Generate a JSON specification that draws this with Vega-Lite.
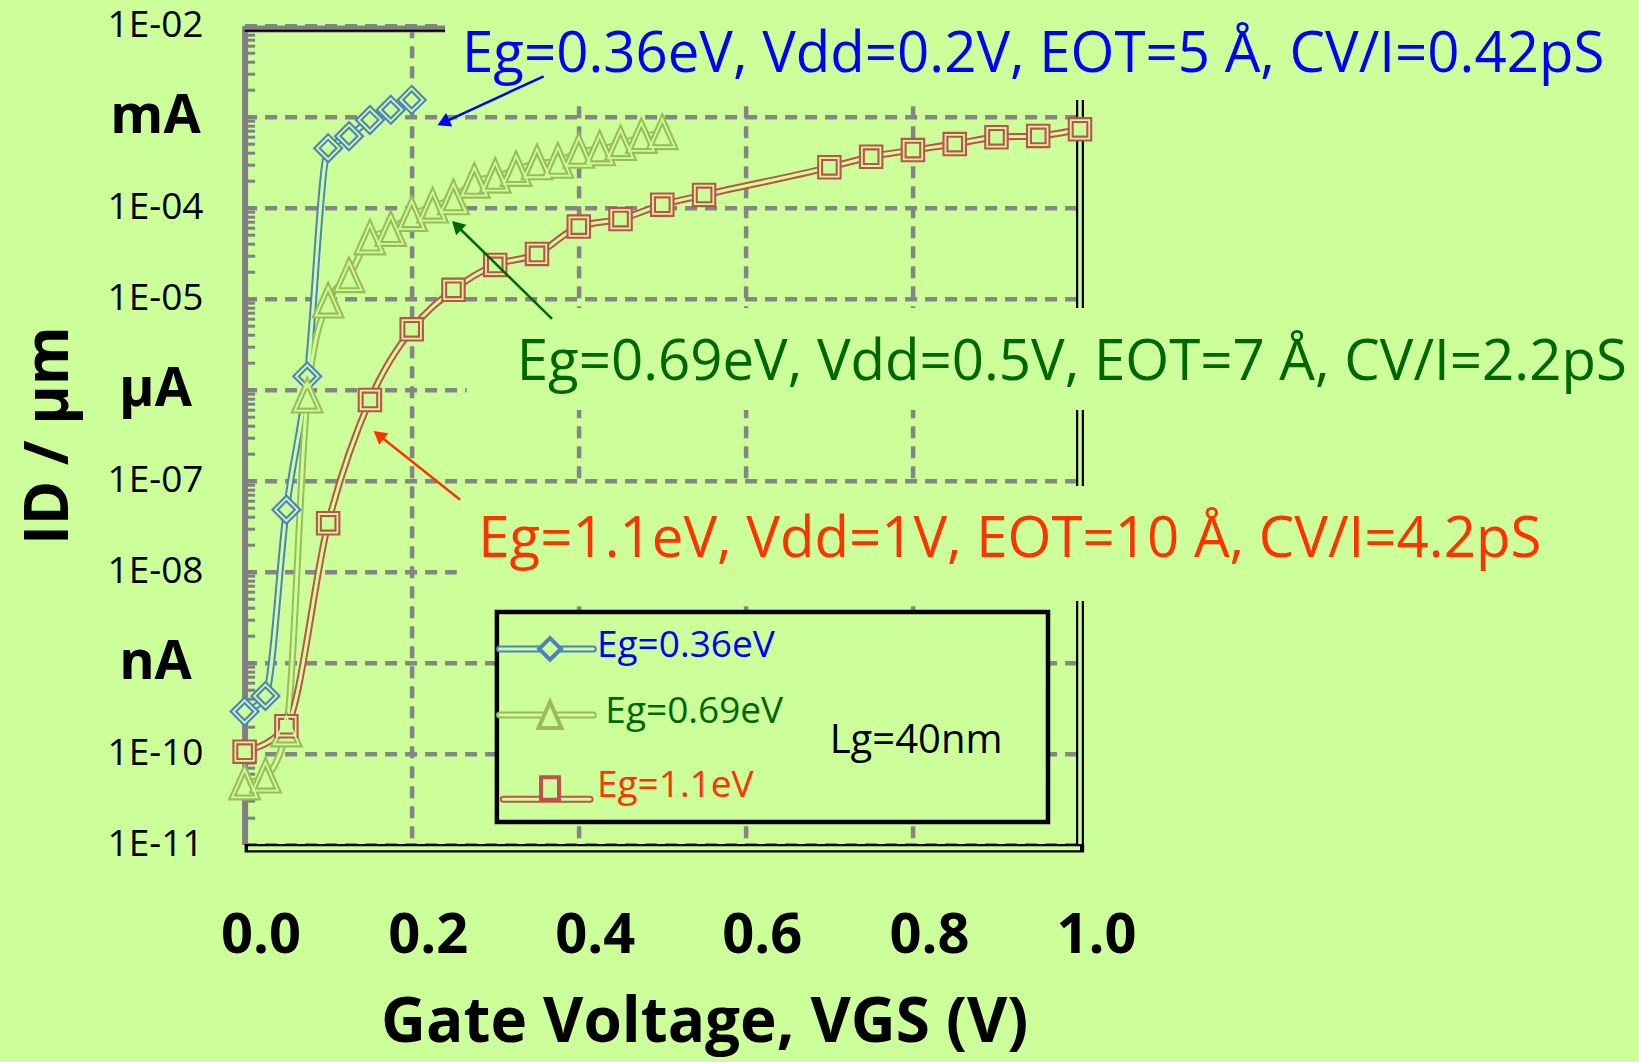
{
  "$schema": "https://vega.github.io/schema/vega-lite/v6.json",
  "width": 835.4,
  "height": 818.9,
  "autosize": {"type": "none"},
  "padding": {"left": 244.6, "top": 25.7, "right": 559, "bottom": 217.4},
  "background": "#CCFF99",
  "config": {
    "view": {"stroke": null},
    "font": "Open Sans",
    "axis": {"gridColor": "#858585", "gridDash": [12, 8], "gridWidth": 4.5, "labelColor": "#000000", "titleColor": "#000000", "labelFont": "Open Sans", "titleFont": "Open Sans"}
  },
  "datasets": {
    "series": [
      {"series": "Eg=0.36eV", "V": 0, "I": 2.9e-10},
      {"series": "Eg=0.36eV", "V": 0.025, "I": 4.3e-10},
      {"series": "Eg=0.36eV", "V": 0.05, "I": 4.8e-8},
      {"series": "Eg=0.36eV", "V": 0.075, "I": 1.4e-6},
      {"series": "Eg=0.36eV", "V": 0.1, "I": 4.5e-4},
      {"series": "Eg=0.36eV", "V": 0.125, "I": 6.1e-4},
      {"series": "Eg=0.36eV", "V": 0.15, "I": 9.2e-4},
      {"series": "Eg=0.36eV", "V": 0.175, "I": 1.19e-3},
      {"series": "Eg=0.36eV", "V": 0.2, "I": 1.53e-3},
      {"series": "Eg=0.69eV", "V": 0, "I": 4.7e-11},
      {"series": "Eg=0.69eV", "V": 0.025, "I": 5.6e-11},
      {"series": "Eg=0.69eV", "V": 0.05, "I": 1.8e-10},
      {"series": "Eg=0.69eV", "V": 0.075, "I": 8.4e-7},
      {"series": "Eg=0.69eV", "V": 0.1, "I": 9.3e-6},
      {"series": "Eg=0.69eV", "V": 0.125, "I": 1.77e-5},
      {"series": "Eg=0.69eV", "V": 0.15, "I": 4.6e-5},
      {"series": "Eg=0.69eV", "V": 0.175, "I": 5.7e-5},
      {"series": "Eg=0.69eV", "V": 0.2, "I": 8.3e-5},
      {"series": "Eg=0.69eV", "V": 0.225, "I": 1.03e-4},
      {"series": "Eg=0.69eV", "V": 0.25, "I": 1.27e-4},
      {"series": "Eg=0.69eV", "V": 0.275, "I": 1.93e-4},
      {"series": "Eg=0.69eV", "V": 0.3, "I": 2.19e-4},
      {"series": "Eg=0.69eV", "V": 0.325, "I": 2.6e-4},
      {"series": "Eg=0.69eV", "V": 0.35, "I": 3.08e-4},
      {"series": "Eg=0.69eV", "V": 0.375, "I": 3.2e-4},
      {"series": "Eg=0.69eV", "V": 0.4, "I": 4.12e-4},
      {"series": "Eg=0.69eV", "V": 0.425, "I": 4.38e-4},
      {"series": "Eg=0.69eV", "V": 0.45, "I": 5.0e-4},
      {"series": "Eg=0.69eV", "V": 0.475, "I": 6.0e-4},
      {"series": "Eg=0.69eV", "V": 0.5, "I": 6.6e-4},
      {"series": "Eg=1.1eV", "V": 0, "I": 1.05e-10},
      {"series": "Eg=1.1eV", "V": 0.05, "I": 2.0e-10},
      {"series": "Eg=1.1eV", "V": 0.1, "I": 3.4e-8},
      {"series": "Eg=1.1eV", "V": 0.15, "I": 7.7e-7},
      {"series": "Eg=1.1eV", "V": 0.2, "I": 4.6e-6},
      {"series": "Eg=1.1eV", "V": 0.25, "I": 1.25e-5},
      {"series": "Eg=1.1eV", "V": 0.3, "I": 2.35e-5},
      {"series": "Eg=1.1eV", "V": 0.35, "I": 3.1e-5},
      {"series": "Eg=1.1eV", "V": 0.4, "I": 6.2e-5},
      {"series": "Eg=1.1eV", "V": 0.45, "I": 7.5e-5},
      {"series": "Eg=1.1eV", "V": 0.5, "I": 1.08e-4},
      {"series": "Eg=1.1eV", "V": 0.55, "I": 1.38e-4},
      {"series": "Eg=1.1eV", "V": 0.7, "I": 2.78e-4},
      {"series": "Eg=1.1eV", "V": 0.75, "I": 3.63e-4},
      {"series": "Eg=1.1eV", "V": 0.8, "I": 4.3e-4},
      {"series": "Eg=1.1eV", "V": 0.85, "I": 5.0e-4},
      {"series": "Eg=1.1eV", "V": 0.9, "I": 5.94e-4},
      {"series": "Eg=1.1eV", "V": 0.95, "I": 6.14e-4},
      {"series": "Eg=1.1eV", "V": 1.0, "I": 7.27e-4}
    ]
  },
  "resolve": {"axis": {"x": "independent", "y": "independent"}},
  "layer": [
    {
      "data": {"values": [{}]},
      "mark": {"type": "rule", "color": "#000000", "strokeWidth": 8},
      "encoding": {
        "x": {"datum": 1, "type": "quantitative", "scale": {"domain": [0, 1], "nice": false, "zero": false}, "axis": null},
        "y": {"datum": 9.1e-12, "type": "quantitative", "scale": {"type": "log", "domain": [1e-11, 0.01], "nice": false}, "axis": null},
        "y2": {"datum": 1.53e-3}
      }
    },
    {
      "data": {"values": [{}]},
      "mark": {"type": "rule", "color": "#CCFF99", "strokeWidth": 3.5},
      "encoding": {
        "x": {"datum": 1, "type": "quantitative", "scale": {"domain": [0, 1], "nice": false, "zero": false}, "axis": null},
        "y": {"datum": 9.1e-12, "type": "quantitative", "scale": {"type": "log", "domain": [1e-11, 0.01], "nice": false}, "axis": null},
        "y2": {"datum": 1.53e-3}
      }
    },
    {
      "data": {"values": [{}]},
      "mark": {"type": "rule", "color": "#000000", "strokeWidth": 8.5},
      "encoding": {
        "x": {"datum": 0, "type": "quantitative", "scale": {"domain": [0, 1], "nice": false, "zero": false}, "axis": null},
        "x2": {"datum": 1.005},
        "y": {"datum": 9.1e-12, "type": "quantitative", "scale": {"type": "log", "domain": [1e-11, 0.01], "nice": false}, "axis": null}
      }
    },
    {
      "data": {"values": [{}]},
      "mark": {"type": "rule", "color": "#CCFF99", "strokeWidth": 4},
      "encoding": {
        "x": {"datum": 0.004, "type": "quantitative", "scale": {"domain": [0, 1], "nice": false, "zero": false}, "axis": null},
        "x2": {"datum": 1.0},
        "y": {"datum": 9.1e-12, "type": "quantitative", "scale": {"type": "log", "domain": [1e-11, 0.01], "nice": false}, "axis": null}
      }
    },
    {
      "data": {"values": [{}]},
      "mark": {"type": "rule", "color": "#808080", "strokeWidth": 7},
      "encoding": {
        "x": {"datum": 0, "type": "quantitative", "scale": {"domain": [0, 1], "nice": false, "zero": false}, "axis": null},
        "x2": {"datum": 0.2455},
        "y": {"datum": 0.0092, "type": "quantitative", "scale": {"type": "log", "domain": [1e-11, 0.01], "nice": false}, "axis": null}
      }
    },
    {
      "data": {"values": [{}]},
      "mark": {"type": "rule", "color": "#000000", "strokeWidth": 2},
      "encoding": {
        "x": {"datum": 0, "type": "quantitative", "scale": {"domain": [0, 1], "nice": false, "zero": false}, "axis": null},
        "x2": {"datum": 0.2455},
        "y": {"datum": 0.0088, "type": "quantitative", "scale": {"type": "log", "domain": [1e-11, 0.01], "nice": false}, "axis": null}
      }
    },
    {
      "data": {"values": [{}]},
      "mark": {"type": "rect", "color": "#CCFF99"},
      "encoding": {
        "x": {"datum": 0.24, "type": "quantitative", "scale": {"domain": [0, 1], "nice": false, "zero": false}, "axis": null},
        "x2": {"datum": 1.2},
        "y": {"datum": 1.53e-3, "type": "quantitative", "scale": {"type": "log", "domain": [1e-11, 0.01], "nice": false}, "axis": null},
        "y2": {"datum": 0.05}
      }
    },
    {
      "data": {"values": [{}]},
      "mark": {"type": "rect", "color": "#CCFF99"},
      "encoding": {
        "x": {"datum": 0.266, "type": "quantitative", "scale": {"domain": [0, 1], "nice": false, "zero": false}, "axis": null},
        "x2": {"datum": 1.2},
        "y": {"datum": 5.98e-7, "type": "quantitative", "scale": {"type": "log", "domain": [1e-11, 0.01], "nice": false}, "axis": null},
        "y2": {"datum": 7.9e-6}
      }
    },
    {
      "data": {"values": [{}]},
      "mark": {"type": "rect", "color": "#CCFF99"},
      "encoding": {
        "x": {"datum": 0.254, "type": "quantitative", "scale": {"domain": [0, 1], "nice": false, "zero": false}, "axis": null},
        "x2": {"datum": 1.2},
        "y": {"datum": 4.77e-9, "type": "quantitative", "scale": {"type": "log", "domain": [1e-11, 0.01], "nice": false}, "axis": null},
        "y2": {"datum": 8.75e-8}
      }
    },
    {
      "data": {"values": [{}]},
      "mark": {"type": "rect", "fill": "#CCFF99", "stroke": "#000000", "strokeWidth": 4.5},
      "encoding": {
        "x": {"datum": 0.302, "type": "quantitative", "scale": {"domain": [0, 1], "nice": false, "zero": false}, "axis": null},
        "x2": {"datum": 0.9617},
        "y": {"datum": 1.77e-11, "type": "quantitative", "scale": {"type": "log", "domain": [1e-11, 0.01], "nice": false}, "axis": null},
        "y2": {"datum": 3.61e-9}
      }
    },
    {
      "data": {"name": "series"},
      "mark": {"type": "line", "interpolate": "monotone", "strokeWidth": 7, "strokeCap": "round"},
      "encoding": {
        "x": {
          "field": "V", "type": "quantitative",
          "scale": {"domain": [0, 1], "nice": false, "zero": false},
          "axis": {
            "orient": "bottom",
            "values": [0, 0.2, 0.4, 0.6, 0.8, 1],
            "format": ".1f",
            "labelFontSize": 56, "labelFontWeight": "bold", "labelOffset": 16, "labelPadding": 108, "labelBaseline": "alphabetic", "labelFlush": false, "labelOverlap": false,
            "ticks": false, "domain": false, "grid": true, "gridWidth": 4.5, "gridColor": "#858585", "gridDash": [12, 8],
            "title": "Gate Voltage, VGS (V)", "titleFontSize": 62, "titleFontWeight": "bold", "titleX": 459.6, "titleY": 197, "titleAlign": "center", "titleBaseline": "alphabetic"
          }
        },
        "y": {
          "field": "I", "type": "quantitative",
          "scale": {"type": "log", "domain": [1e-11, 0.01], "nice": false},
          "axis": {
            "orient": "left",
            "values": [1e-11, 1e-10, 1e-9, 1e-8, 1e-7, 1e-6, 1e-5, 1e-4, 1e-3, 1e-2],
            "labelExpr": "round(log(datum.value)/LN10) == -3 ? 'mA' : round(log(datum.value)/LN10) == -6 ? 'µA' : round(log(datum.value)/LN10) == -9 ? 'nA' : '1E-' + pad(toString(-round(log(datum.value)/LN10)), 2, '0', 'left')",
            "labelFontSize": {"condition": {"test": "round(log(datum.value)/LN10) % 3 == 0", "value": 54}, "value": 37},
            "labelFontWeight": {"condition": {"test": "round(log(datum.value)/LN10) % 3 == 0", "value": "bold"}, "value": "normal"},
            "labelAlign": "center", "labelBaseline": "middle", "labelPadding": 89.6, "labelOverlap": false, "labelFlush": false,
            "ticks": false, "domainColor": "#808080", "domainWidth": 6, "grid": true, "gridWidth": 4.5, "gridColor": "#858585", "gridDash": [12, 8],
            "title": "ID / µm", "titleFontSize": 60, "titleFontWeight": "bold", "titleX": -177.6, "titleY": 409.5, "titleAngle": 270, "titleAlign": "center", "titleBaseline": "alphabetic"
          }
        },
        "stroke": {
          "field": "series", "type": "nominal",
          "scale": {"domain": ["Eg=0.36eV", "Eg=0.69eV", "Eg=1.1eV"], "range": ["#4F81BD", "#9BBB59", "#C0504D"]},
          "legend": null
        }
      }
    },
    {
      "data": {"name": "series"},
      "mark": {"type": "line", "interpolate": "monotone", "strokeWidth": 3, "color": "#CCFF99", "strokeCap": "round"},
      "encoding": {
        "x": {"field": "V", "type": "quantitative", "scale": {"domain": [0, 1], "nice": false, "zero": false}, "axis": null},
        "y": {
          "field": "I", "type": "quantitative",
          "scale": {"type": "log", "domain": [1e-11, 0.01], "nice": false},
          "axis": {
            "orient": "left",
            "values": [1e-11, 2e-11, 3e-11, 4e-11, 5e-11, 6e-11, 7e-11, 8e-11, 9e-11, 1e-10, 2e-10, 3e-10, 4e-10, 5e-10, 6e-10, 7e-10, 8e-10, 9e-10, 1e-9, 2e-9, 3e-9, 4e-9, 5e-9, 6e-9, 7e-9, 8e-9, 9e-9, 1e-8, 2e-8, 3e-8, 4e-8, 5e-8, 6e-8, 7e-8, 8e-8, 9e-8, 1e-7, 2e-7, 3e-7, 4e-7, 5e-7, 6e-7, 7e-7, 8e-7, 9e-7, 1e-6, 2e-6, 3e-6, 4e-6, 5e-6, 6e-6, 7e-6, 8e-6, 9e-6, 1e-5, 2e-5, 3e-5, 4e-5, 5e-5, 6e-5, 7e-5, 8e-5, 9e-5, 1e-4, 2e-4, 3e-4, 4e-4, 5e-4, 6e-4, 7e-4, 8e-4, 9e-4, 1e-3, 2e-3, 3e-3, 4e-3, 5e-3, 6e-3, 7e-3, 8e-3, 9e-3, 1e-2],
            "labels": false, "grid": false, "domain": false, "ticks": true,
            "tickSize": -10, "tickColor": "#808080", "tickWidth": 3, "title": null
          }
        },
        "detail": {"field": "series", "type": "nominal"}
      }
    },
    {
      "data": {"name": "series"},
      "mark": {"type": "point", "filled": true, "fill": "#CCFF99", "strokeWidth": 6, "opacity": 1, "size": 700},
      "encoding": {
        "x": {"field": "V", "type": "quantitative", "scale": {"domain": [0, 1], "nice": false, "zero": false}, "axis": null},
        "y": {"field": "I", "type": "quantitative", "scale": {"type": "log", "domain": [1e-11, 0.01], "nice": false}, "axis": null},
        "stroke": {
          "field": "series", "type": "nominal",
          "scale": {"domain": ["Eg=0.36eV", "Eg=0.69eV", "Eg=1.1eV"], "range": ["#4F81BD", "#9BBB59", "#C0504D"]},
          "legend": null
        },
        "shape": {
          "field": "series", "type": "nominal",
          "scale": {"domain": ["Eg=0.36eV", "Eg=0.69eV", "Eg=1.1eV"], "range": ["M0,-0.85L0.85,0L0,0.85L-0.85,0Z", "M0,-1.06L0.94,1.06L-0.94,1.06Z", "M-0.7,-0.7H0.7V0.7H-0.7Z"]},
          "legend": null
        }
      }
    },
    {
      "data": {"name": "series"},
      "mark": {"type": "point", "filled": false, "stroke": "#CCFF99", "strokeWidth": 1.8, "opacity": 1, "size": 700},
      "encoding": {
        "x": {"field": "V", "type": "quantitative", "scale": {"domain": [0, 1], "nice": false, "zero": false}, "axis": null},
        "y": {"field": "I", "type": "quantitative", "scale": {"type": "log", "domain": [1e-11, 0.01], "nice": false}, "axis": null},
        "shape": {
          "field": "series", "type": "nominal",
          "scale": {"domain": ["Eg=0.36eV", "Eg=0.69eV", "Eg=1.1eV"], "range": ["M0,-0.85L0.85,0L0,0.85L-0.85,0Z", "M0,-1.06L0.94,1.06L-0.94,1.06Z", "M-0.7,-0.7H0.7V0.7H-0.7Z"]},
          "legend": null
        }
      }
    },
    {
      "data": {"values": [{}]},
      "mark": {"type": "rule", "color": "#4F81BD", "strokeWidth": 7, "strokeCap": "round"},
      "encoding": {
        "x": {"datum": 0.3052, "type": "quantitative", "scale": {"domain": [0, 1], "nice": false, "zero": false}, "axis": null},
        "x2": {"datum": 0.4174},
        "y": {"datum": 1.416e-9, "type": "quantitative", "scale": {"type": "log", "domain": [1e-11, 0.01], "nice": false}, "axis": null}
      }
    },
    {
      "data": {"values": [{}]},
      "mark": {"type": "rule", "color": "#CCFF99", "strokeWidth": 3, "strokeCap": "round"},
      "encoding": {
        "x": {"datum": 0.3052, "type": "quantitative", "scale": {"domain": [0, 1], "nice": false, "zero": false}, "axis": null},
        "x2": {"datum": 0.4174},
        "y": {"datum": 1.416e-9, "type": "quantitative", "scale": {"type": "log", "domain": [1e-11, 0.01], "nice": false}, "axis": null}
      }
    },
    {
      "data": {"values": [{}]},
      "mark": {"type": "point", "shape": "M0,-0.85L0.85,0L0,0.85L-0.85,0Z", "filled": true, "fill": "#CCFF99", "stroke": "#4F81BD", "strokeWidth": 4, "size": 650, "opacity": 1},
      "encoding": {
        "x": {"datum": 0.3656, "type": "quantitative", "scale": {"domain": [0, 1], "nice": false, "zero": false}, "axis": null},
        "y": {"datum": 1.416e-9, "type": "quantitative", "scale": {"type": "log", "domain": [1e-11, 0.01], "nice": false}, "axis": null}
      }
    },
    {
      "data": {"values": [{}]},
      "mark": {"type": "text", "text": "Eg=0.36eV", "font": "Open Sans", "fontSize": 37, "color": "#0000FF", "align": "left", "baseline": "alphabetic"},
      "encoding": {
        "x": {"datum": 0.4218, "type": "quantitative", "scale": {"domain": [0, 1], "nice": false, "zero": false}, "axis": null},
        "y": {"datum": 1.164e-9, "type": "quantitative", "scale": {"type": "log", "domain": [1e-11, 0.01], "nice": false}, "axis": null}
      }
    },
    {
      "data": {"values": [{}]},
      "mark": {"type": "rule", "color": "#9BBB59", "strokeWidth": 7, "strokeCap": "round"},
      "encoding": {
        "x": {"datum": 0.3052, "type": "quantitative", "scale": {"domain": [0, 1], "nice": false, "zero": false}, "axis": null},
        "x2": {"datum": 0.4174},
        "y": {"datum": 2.66e-10, "type": "quantitative", "scale": {"type": "log", "domain": [1e-11, 0.01], "nice": false}, "axis": null}
      }
    },
    {
      "data": {"values": [{}]},
      "mark": {"type": "rule", "color": "#CCFF99", "strokeWidth": 3, "strokeCap": "round"},
      "encoding": {
        "x": {"datum": 0.3052, "type": "quantitative", "scale": {"domain": [0, 1], "nice": false, "zero": false}, "axis": null},
        "x2": {"datum": 0.4174},
        "y": {"datum": 2.66e-10, "type": "quantitative", "scale": {"type": "log", "domain": [1e-11, 0.01], "nice": false}, "axis": null}
      }
    },
    {
      "data": {"values": [{}]},
      "mark": {"type": "point", "shape": "M0,-1.06L0.94,1.06L-0.94,1.06Z", "filled": true, "fill": "#CCFF99", "stroke": "#9BBB59", "strokeWidth": 4, "size": 600, "opacity": 1},
      "encoding": {
        "x": {"datum": 0.3656, "type": "quantitative", "scale": {"domain": [0, 1], "nice": false, "zero": false}, "axis": null},
        "y": {"datum": 2.66e-10, "type": "quantitative", "scale": {"type": "log", "domain": [1e-11, 0.01], "nice": false}, "axis": null}
      }
    },
    {
      "data": {"values": [{}]},
      "mark": {"type": "text", "text": "Eg=0.69eV", "font": "Open Sans", "fontSize": 37, "color": "#006600", "align": "left", "baseline": "alphabetic"},
      "encoding": {
        "x": {"datum": 0.4318, "type": "quantitative", "scale": {"domain": [0, 1], "nice": false, "zero": false}, "axis": null},
        "y": {"datum": 2.16e-10, "type": "quantitative", "scale": {"type": "log", "domain": [1e-11, 0.01], "nice": false}, "axis": null}
      }
    },
    {
      "data": {"values": [{}]},
      "mark": {"type": "rule", "color": "#C0504D", "strokeWidth": 7, "strokeCap": "round"},
      "encoding": {
        "x": {"datum": 0.3097, "type": "quantitative", "scale": {"domain": [0, 1], "nice": false, "zero": false}, "axis": null},
        "x2": {"datum": 0.4135},
        "y": {"datum": 3.15e-11, "type": "quantitative", "scale": {"type": "log", "domain": [1e-11, 0.01], "nice": false}, "axis": null}
      }
    },
    {
      "data": {"values": [{}]},
      "mark": {"type": "rule", "color": "#CCFF99", "strokeWidth": 3, "strokeCap": "round"},
      "encoding": {
        "x": {"datum": 0.3097, "type": "quantitative", "scale": {"domain": [0, 1], "nice": false, "zero": false}, "axis": null},
        "x2": {"datum": 0.4135},
        "y": {"datum": 3.15e-11, "type": "quantitative", "scale": {"type": "log", "domain": [1e-11, 0.01], "nice": false}, "axis": null}
      }
    },
    {
      "data": {"values": [{}]},
      "mark": {"type": "point", "shape": "M-0.6,-0.75H0.6V0.75H-0.6Z", "filled": true, "fill": "#CCFF99", "stroke": "#C0504D", "strokeWidth": 4, "size": 900, "opacity": 1},
      "encoding": {
        "x": {"datum": 0.3656, "type": "quantitative", "scale": {"domain": [0, 1], "nice": false, "zero": false}, "axis": null},
        "y": {"datum": 4.13e-11, "type": "quantitative", "scale": {"type": "log", "domain": [1e-11, 0.01], "nice": false}, "axis": null}
      }
    },
    {
      "data": {"values": [{}]},
      "mark": {"type": "text", "text": "Eg=1.1eV", "font": "Open Sans", "fontSize": 37, "color": "#FF3300", "align": "left", "baseline": "alphabetic"},
      "encoding": {
        "x": {"datum": 0.4218, "type": "quantitative", "scale": {"domain": [0, 1], "nice": false, "zero": false}, "axis": null},
        "y": {"datum": 3.37e-11, "type": "quantitative", "scale": {"type": "log", "domain": [1e-11, 0.01], "nice": false}, "axis": null}
      }
    },
    {
      "data": {"values": [{}]},
      "mark": {"type": "rule", "color": "#0000FF", "strokeWidth": 2.5},
      "encoding": {
        "x": {"datum": 0.358, "type": "quantitative", "scale": {"domain": [0, 1], "nice": false, "zero": false}, "axis": null},
        "y": {"datum": 2.78e-3, "type": "quantitative", "scale": {"type": "log", "domain": [1e-11, 0.01], "nice": false}, "axis": null},
        "x2": {"datum": 0.2379},
        "y2": {"datum": 8.63e-4}
      }
    },
    {
      "data": {"values": [{}]},
      "mark": {"type": "rule", "color": "#006600", "strokeWidth": 2.5},
      "encoding": {
        "x": {"datum": 0.368, "type": "quantitative", "scale": {"domain": [0, 1], "nice": false, "zero": false}, "axis": null},
        "y": {"datum": 6.01e-6, "type": "quantitative", "scale": {"type": "log", "domain": [1e-11, 0.01], "nice": false}, "axis": null},
        "x2": {"datum": 0.2538},
        "y2": {"datum": 6.37e-5}
      }
    },
    {
      "data": {"values": [{}]},
      "mark": {"type": "rule", "color": "#FF3300", "strokeWidth": 2.5},
      "encoding": {
        "x": {"datum": 0.258, "type": "quantitative", "scale": {"domain": [0, 1], "nice": false, "zero": false}, "axis": null},
        "y": {"datum": 6.18e-8, "type": "quantitative", "scale": {"type": "log", "domain": [1e-11, 0.01], "nice": false}, "axis": null},
        "x2": {"datum": 0.1605},
        "y2": {"datum": 3.17e-7}
      }
    },
    {
      "data": {"values": [{}]},
      "mark": {"type": "point", "shape": "triangle-up", "filled": true, "color": "#0000FF", "size": 220, "angle": 245, "opacity": 1},
      "encoding": {
        "x": {"datum": 0.2379, "type": "quantitative", "scale": {"domain": [0, 1], "nice": false, "zero": false}, "axis": null},
        "y": {"datum": 8.63e-4, "type": "quantitative", "scale": {"type": "log", "domain": [1e-11, 0.01], "nice": false}, "axis": null}
      }
    },
    {
      "data": {"values": [{}]},
      "mark": {"type": "point", "shape": "triangle-up", "filled": true, "color": "#006600", "size": 220, "angle": 314, "opacity": 1},
      "encoding": {
        "x": {"datum": 0.2538, "type": "quantitative", "scale": {"domain": [0, 1], "nice": false, "zero": false}, "axis": null},
        "y": {"datum": 6.37e-5, "type": "quantitative", "scale": {"type": "log", "domain": [1e-11, 0.01], "nice": false}, "axis": null}
      }
    },
    {
      "data": {"values": [{}]},
      "mark": {"type": "point", "shape": "triangle-up", "filled": true, "color": "#FF3300", "size": 220, "angle": 308, "opacity": 1},
      "encoding": {
        "x": {"datum": 0.1605, "type": "quantitative", "scale": {"domain": [0, 1], "nice": false, "zero": false}, "axis": null},
        "y": {"datum": 3.17e-7, "type": "quantitative", "scale": {"type": "log", "domain": [1e-11, 0.01], "nice": false}, "axis": null}
      }
    },
    {
      "data": {"values": [{}]},
      "mark": {"type": "text", "text": "Eg=0.36eV, Vdd=0.2V, EOT=5 Å, CV/I=0.42pS", "font": "Open Sans", "fontSize": 56.4, "color": "#0000FF", "align": "left", "baseline": "alphabetic"},
      "encoding": {
        "x": {"datum": 0.2602, "type": "quantitative", "scale": {"domain": [0, 1], "nice": false, "zero": false}, "axis": null},
        "y": {"datum": 3.12e-3, "type": "quantitative", "scale": {"type": "log", "domain": [1e-11, 0.01], "nice": false}, "axis": null}
      }
    },
    {
      "data": {"values": [{}]},
      "mark": {"type": "text", "text": "Eg=0.69eV, Vdd=0.5V, EOT=7 Å, CV/I=2.2pS", "font": "Open Sans", "fontSize": 56.4, "color": "#006600", "align": "left", "baseline": "alphabetic"},
      "encoding": {
        "x": {"datum": 0.3257, "type": "quantitative", "scale": {"domain": [0, 1], "nice": false, "zero": false}, "axis": null},
        "y": {"datum": 1.28e-6, "type": "quantitative", "scale": {"type": "log", "domain": [1e-11, 0.01], "nice": false}, "axis": null}
      }
    },
    {
      "data": {"values": [{}]},
      "mark": {"type": "text", "text": "Eg=1.1eV, Vdd=1V, EOT=10 Å, CV/I=4.2pS", "font": "Open Sans", "fontSize": 56.4, "color": "#FF3300", "align": "left", "baseline": "alphabetic"},
      "encoding": {
        "x": {"datum": 0.2797, "type": "quantitative", "scale": {"domain": [0, 1], "nice": false, "zero": false}, "axis": null},
        "y": {"datum": 1.46e-8, "type": "quantitative", "scale": {"type": "log", "domain": [1e-11, 0.01], "nice": false}, "axis": null}
      }
    },
    {
      "data": {"values": [{}]},
      "mark": {"type": "text", "text": "Lg=40nm", "font": "Open Sans", "fontSize": 40, "color": "#000000", "align": "left", "baseline": "alphabetic"},
      "encoding": {
        "x": {"datum": 0.7004, "type": "quantitative", "scale": {"domain": [0, 1], "nice": false, "zero": false}, "axis": null},
        "y": {"datum": 1.01e-10, "type": "quantitative", "scale": {"type": "log", "domain": [1e-11, 0.01], "nice": false}, "axis": null}
      }
    }
  ]
}
